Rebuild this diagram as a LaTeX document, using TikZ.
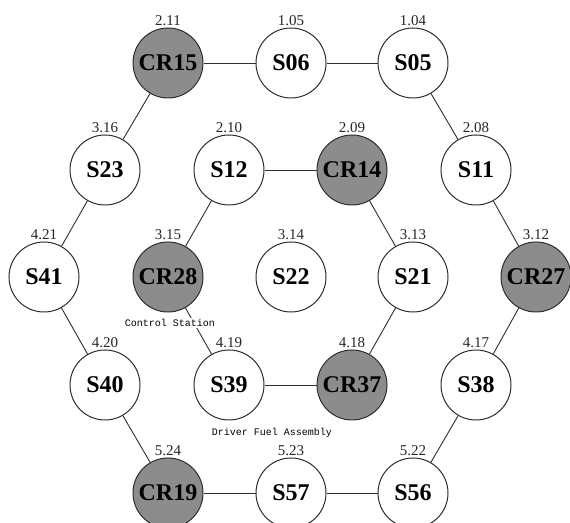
\documentclass[tikz,border=0pt]{standalone}
\usepackage{fontspec}
\setmainfont{Liberation Serif}
\setmonofont{Liberation Mono}
\definecolor{rodgray}{RGB}{140,140,140}
\definecolor{linegray}{RGB}{45,45,45}
\tikzset{
  posbox/.style={circle, draw=linegray, line width=1pt, minimum size=70pt, inner sep=0pt,
    font=\fontsize{24}{24}\selectfont\bfseries, fill=white},
  rodbox/.style={posbox, fill=rodgray},
  numlbl/.style={font=\fontsize{15}{15}\selectfont, inner sep=1pt, text=black!85},
  conn/.style={draw=linegray, line width=0.9pt},
  notebox/.style={font=\fontsize{10}{10}\selectfont\ttfamily, fill=white, inner sep=1.5pt}
}
\begin{document}
\begin{tikzpicture}[x=1pt,y=1pt]
\useasboundingbox (0,0) rectangle (570,522);
\begin{scope}
\clip (0,0) rectangle (570,522);
% row 1
\node[rodbox, label={[numlbl,label distance=1pt]above:2.11}] (CR15) at (168,459) {CR15};
\node[posbox, label={[numlbl,label distance=1pt]above:1.05}] (S06) at (291,459) {S06};
\node[posbox, label={[numlbl,label distance=1pt]above:1.04}] (S05) at (413,459) {S05};
% row 2
\node[posbox, label={[numlbl,label distance=1pt]above:3.16}] (S23) at (105,352) {S23};
\node[posbox, label={[numlbl,label distance=1pt]above:2.10}] (S12) at (229,352) {S12};
\node[rodbox, label={[numlbl,label distance=1pt]above:2.09}] (CR14) at (352,352) {CR14};
\node[posbox, label={[numlbl,label distance=1pt]above:2.08}] (S11) at (476,352) {S11};
% row 3
\node[posbox, label={[numlbl,label distance=1pt]above:4.21}] (S41) at (44,245) {S41};
\node[rodbox, label={[numlbl,label distance=1pt]above:3.15}] (CR28) at (168,245) {CR28};
\node[posbox, label={[numlbl,label distance=1pt]above:3.14}] (S22) at (291,245) {S22};
\node[posbox, label={[numlbl,label distance=1pt]above:3.13}] (S21) at (413,245) {S21};
\node[rodbox, label={[numlbl,label distance=1pt]above:3.12}] (CR27) at (536,245) {CR27};
% row 4
\node[posbox, label={[numlbl,label distance=1pt]above:4.20}] (S40) at (105,137) {S40};
\node[posbox, label={[numlbl,label distance=1pt]above:4.19}] (S39) at (229,137) {S39};
\node[rodbox, label={[numlbl,label distance=1pt]above:4.18}] (CR37) at (352,137) {CR37};
\node[posbox, label={[numlbl,label distance=1pt]above:4.17}] (S38) at (476,137) {S38};
% row 5
\node[rodbox, label={[numlbl,label distance=1pt]above:5.24}] (CR19) at (168,29) {CR19};
\node[posbox, label={[numlbl,label distance=1pt]above:5.23}] (S57) at (291,29) {S57};
\node[posbox, label={[numlbl,label distance=1pt]above:5.22}] (S56) at (413,29) {S56};
% outer ring
\draw[conn] (CR15) -- (S06);
\draw[conn] (S06) -- (S05);
\draw[conn] (S05) -- (S11);
\draw[conn] (S11) -- (CR27);
\draw[conn] (CR27) -- (S38);
\draw[conn] (S38) -- (S56);
\draw[conn] (S56) -- (S57);
\draw[conn] (S57) -- (CR19);
\draw[conn] (CR19) -- (S40);
\draw[conn] (S40) -- (S41);
\draw[conn] (S41) -- (S23);
\draw[conn] (S23) -- (CR15);
% inner ring
\draw[conn] (S12) -- (CR14);
\draw[conn] (CR14) -- (S21);
\draw[conn] (S21) -- (CR37);
\draw[conn] (CR37) -- (S39);
\draw[conn] (S39) -- (CR28);
\draw[conn] (CR28) -- (S12);
% notes
\node[notebox] (ctrl) at (170,199) {Control Station};
\node[notebox] (dfa) at (272,89) {Driver Fuel Assembly};
\end{scope}
\end{tikzpicture}
\end{document}
